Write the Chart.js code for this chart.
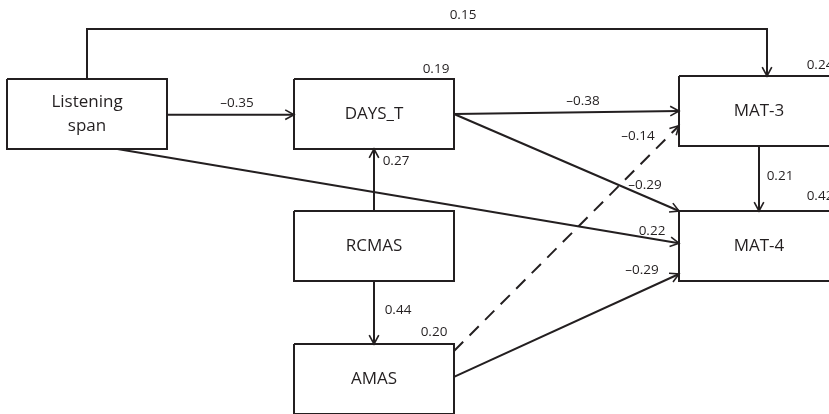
<!DOCTYPE html>
<html>
<head>
<meta charset="utf-8">
<script src="https://cdn.jsdelivr.net/npm/chart.js@4.4.1/dist/chart.umd.min.js"></script>
<style>
  html, body { margin: 0; padding: 0; background: #fff; }
  #wrap { width: 829px; height: 414px; }
</style>
</head>
<body>
<div id="wrap"><canvas id="diagram" width="829" height="414"></canvas></div>
<script>
// nodes of the path model
const nodeNames = ["Listening\nspan", "DAYS_T", "MAT-3", "MAT-4", "RCMAS", "AMAS"];

// paths: from -> to, standardized coefficient
const pathFrom = [0, 0, 1, 1, 5, 0, 5, 4, 4, 2];
const pathTo = [2, 1, 2, 3, 2, 3, 3, 1, 5, 3];
const pathCoef = ["0.15", "–0.35", "–0.38", "–0.29", "–0.14", "0.22", "–0.29", "0.27", "0.44", "0.21"];
const pathDashed = [false, false, false, false, true, false, false, false, false, false];

// explained variance shown next to endogenous nodes
const r2Nodes = [1, 2, 3, 5];
const r2Values = ["0.19", "0.24", "0.42", "0.20"];

// layout (diagram units = px of the 829x414 frame)
const INK = "#231f20";
const boxLeft = [7, 294, 679, 679, 294, 294];
const boxTop = [79, 79, 76, 211, 211, 344];
const boxW = 160, boxH = 70;
const anchorFrom = [[0.5, 0], [1, 0.51], [1, 0.5], [1, 0.5], [1, 0.1], [0.69, 1], [1, 0.47], [0.5, 0], [0.5, 1], [0.5, 1]];
const anchorTo = [[0.55, 0], [0, 0.51], [0, 0.5], [0, 0], [0, 0.71], [0, 0.46], [0, 0.9], [0.5, 1], [0.5, 0], [0.5, 0]];
const topRouteY = 29;
const coefPos = [[463, 15], [237, 103], [583, 101], [645, 185], [638, 136], [652, 231], [642, 270], [396, 161], [398, 310], [780, 176]];
const r2Pos = [[436, 69], [820, 65], [820, 196], [434, 332]];

function anchor(node, a) {
  return { x: boxLeft[node] + a[0] * boxW, y: boxTop[node] + a[1] * boxH };
}

const boxSets = nodeNames.map((name, i) => {
  const x0 = boxLeft[i], y0 = boxTop[i], x1 = x0 + boxW, y1 = y0 + boxH;
  return {
    label: name,
    data: [{ x: x0, y: y0 }, { x: x1, y: y0 }, { x: x1, y: y1 }, { x: x0, y: y1 }, { x: x0, y: y0 }],
    showLine: true,
    borderColor: INK,
    borderWidth: 2,
    pointRadius: 0,
    fill: false,
  };
});

const pathSets = pathFrom.map((f, i) => {
  const a = anchor(f, anchorFrom[i]);
  const b = anchor(pathTo[i], anchorTo[i]);
  const pts = i === 0
    ? [a, { x: a.x, y: topRouteY }, { x: b.x, y: topRouteY }, b]
    : [a, b];
  return {
    label: "path" + i,
    arrow: true,
    data: pts,
    showLine: true,
    borderColor: INK,
    borderWidth: 2,
    borderDash: pathDashed[i] ? [13, 9] : [],
    pointRadius: 0,
    fill: false,
  };
});

const arrowPlugin = {
  id: "arrows",
  afterDatasetsDraw(chart) {
    const ctx = chart.ctx;
    ctx.save();
    ctx.strokeStyle = INK;
    ctx.lineWidth = 1.6;
    ctx.setLineDash([]);
    chart.data.datasets.forEach((ds, i) => {
      if (!ds.arrow) return;
      const pts = chart.getDatasetMeta(i).data;
      const p = pts[pts.length - 1], q = pts[pts.length - 2];
      const ang = Math.atan2(p.y - q.y, p.x - q.x);
      const len = 10, spread = 0.5;
      ctx.beginPath();
      ctx.moveTo(p.x - len * Math.cos(ang - spread), p.y - len * Math.sin(ang - spread));
      ctx.lineTo(p.x, p.y);
      ctx.lineTo(p.x - len * Math.cos(ang + spread), p.y - len * Math.sin(ang + spread));
      ctx.stroke();
    });
    ctx.restore();
  },
};

const textPlugin = {
  id: "labels",
  afterDraw(chart) {
    const ctx = chart.ctx;
    const sx = chart.scales.x, sy = chart.scales.y;
    ctx.save();
    ctx.fillStyle = INK;
    ctx.textAlign = "center";
    ctx.textBaseline = "middle";
    ctx.font = '17px "Open Sans", sans-serif';
    nodeNames.forEach((name, i) => {
      const lines = name.split("\n");
      const cx = boxLeft[i] + boxW / 2, cy = boxTop[i] + boxH / 2;
      lines.forEach((ln, k) => {
        const y = cy + (k - (lines.length - 1) / 2) * 24;
        ctx.fillText(ln, sx.getPixelForValue(cx), sy.getPixelForValue(y));
      });
    });
    ctx.font = '13.5px "Open Sans", sans-serif';
    pathCoef.forEach((c, i) => {
      ctx.fillText(c, sx.getPixelForValue(coefPos[i][0]), sy.getPixelForValue(coefPos[i][1]));
    });
    r2Values.forEach((v, i) => {
      ctx.fillText(v, sx.getPixelForValue(r2Pos[i][0]), sy.getPixelForValue(r2Pos[i][1]));
    });
    ctx.restore();
  },
};

new Chart(document.getElementById("diagram"), {
  type: "scatter",
  data: { datasets: [...boxSets, ...pathSets] },
  options: {
    responsive: false,
    animation: false,
    layout: { padding: 0 },
    plugins: { legend: { display: false }, tooltip: { enabled: false } },
    scales: {
      x: { type: "linear", min: 0, max: 829, display: false },
      y: { type: "linear", min: 0, max: 414, reverse: true, display: false },
    },
  },
  plugins: [arrowPlugin, textPlugin],
});
</script>
</body>
</html>
